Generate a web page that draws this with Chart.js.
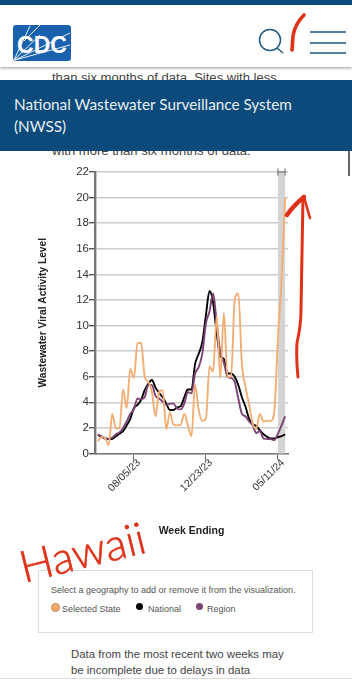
<!DOCTYPE html>
<html>
<head>
<meta charset="utf-8">
<script src="https://cdn.jsdelivr.net/npm/chart.js@4"></script>
<style>
  html, body { margin: 0; padding: 0; width: 352px; height: 680px; overflow: hidden; background: #fff; font-family: "Liberation Sans", sans-serif; }
  .abs { position: absolute; white-space: nowrap; }
  #chartWrap { position: absolute; left: 0; top: 160px; width: 352px; height: 380px; }
  #topBar { left: 0; top: 0; width: 352px; height: 5px; background: #0b4c80; }
  #header { left: 0; top: 5px; width: 352px; height: 62px; background: #fff; box-shadow: 0 1px 3px rgba(0,0,0,.4); z-index: 3; }
  #banner { left: 0; top: 80px; width: 352px; height: 71px; background: #0b4a7a; z-index: 2; color: #e8eef4; font: 15.3px/22px "Lato", sans-serif; }
  #banner div { position: absolute; left: 14px; top: 13px; }
  .pageText { color: #444; font-size: 13.05px; }
  #legendBox { left: 38px; top: 570px; width: 273px; height: 61px; border: 1.5px solid #ddd; z-index: 1; background: #fff; }
  #legendBox .title { position: absolute; left: 12px; top: 13.5px; font-size: 9px; color: #555; }
  .item { position: absolute; top: 33px; font-size: 9px; color: #555; }
  .dot { position: absolute; top: 32px; width: 7px; height: 7px; border-radius: 50%; }
  #hawaii { left: 18px; top: 525px; font: 300 44px "Lato", sans-serif; color: #df3218; transform: rotate(-14deg); z-index: 4; -webkit-text-stroke: .6px #df3218; }
  #ink { position: absolute; left: 0; top: 0; z-index: 4; }
</style>
</head>
<body>
<div class="abs" id="topBar"></div>
<div class="abs" id="header">
  <svg width="352" height="62" style="position:absolute;left:0;top:0">
    <rect x="13" y="20" width="58" height="36" rx="3" fill="#1a62ad"/>
    <g stroke="#fff" stroke-width="0.9" fill="none">
      <path d="M14 55 L30 21"/><path d="M14 55 L40 30"/><path d="M15 55 L70 28"/><path d="M15 55 L70 40"/><path d="M40 20 L24 36"/>
    </g>
    <text x="42" y="48" text-anchor="middle" font-family="Liberation Sans" font-weight="700" font-size="23" fill="#fff">CDC</text>
    <g stroke="#1d5a86" fill="none">
      <circle cx="270" cy="35" r="10.5" stroke-width="1.5"/>
      <path d="M277 43 L283 48" stroke-width="1.5"/>
      <path d="M310 27 H346 M310 38 H346 M310 48 H346" stroke-width="1.5"/>
    </g>
  </svg>
</div>
<div class="abs pageText" style="left:52px;top:70px">than six months of data. Sites with less</div>
<div class="abs" id="banner"><div>National Wastewater Surveillance System<br>(NWSS)</div></div>
<div class="abs pageText" style="left:52px;top:143px">with more than six months of data.</div>
<div class="abs" style="left:348px;top:150px;width:2px;height:26px;background:#666"></div>

<div id="chartWrap"><canvas id="wastewaterChart" width="352" height="380"></canvas></div>

<div class="abs" id="legendBox">
  <div class="title">Select a geography to add or remove it from the visualization.</div>
  <div class="dot" style="left:12px;background:#f2a96b;border:.5px solid #c98b50"></div><div class="item" style="left:23px">Selected State</div>
  <div class="dot" style="left:97px;background:#000"></div><div class="item" style="left:109px">National</div>
  <div class="dot" style="left:157px;background:#7a4374"></div><div class="item" style="left:168px">Region</div>
</div>
<div class="abs pageText" style="left:71px;top:646px;font-size:11.4px;line-height:16px">Data from the most recent two weeks may<br>be incomplete due to delays in data</div>
<div class="abs" style="left:0;top:678px;width:352px;height:1px;background:#ddd"></div>

<div class="abs" id="hawaii">Hawaii</div>
<svg id="ink" width="352" height="680" fill="none" stroke="#df3218" stroke-linecap="round" stroke-linejoin="round">
  <path d="M304 15 Q295 24 293 36 L292 50" stroke-width="3.6"/>
  <path d="M298 377 Q296 358 297 343 Q301 325 301 310 L303 197" stroke-width="3"/>
  <path d="M287 215 Q294 205 304 197" stroke-width="4.5"/>
  <path d="M304 197 L310 218" stroke-width="2.6"/>
</svg>

<script>
const weekEnding = [
  "05/27/23", "06/03/23", "06/10/23", "06/17/23", "06/24/23", "07/01/23", "07/08/23", "07/15/23", "07/22/23",
  "07/29/23", "08/05/23", "08/12/23", "08/19/23", "08/26/23", "09/02/23", "09/09/23", "09/16/23", "09/23/23",
  "09/30/23", "10/07/23", "10/14/23", "10/21/23", "10/28/23", "11/04/23", "11/11/23", "11/18/23", "11/25/23",
  "12/02/23", "12/09/23", "12/16/23", "12/23/23", "12/30/23", "01/06/24", "01/13/24", "01/20/24", "01/27/24",
  "02/03/24", "02/10/24", "02/17/24", "02/24/24", "03/02/24", "03/09/24", "03/16/24", "03/23/24", "03/30/24",
  "04/06/24", "04/13/24", "04/20/24", "04/27/24", "05/04/24", "05/11/24", "05/18/24", "05/25/24",
];
const tickLabels = ["08/05/23", "12/23/23", "05/11/24"];
const incompleteWeeks = ["05/11/24", "05/25/24"];

const selectedState = [
  0.96, 1.3, 1.2, 0.65, 3.1, 1.95, 2.0, 5.0, 3.55, 6.6, 5.9, 8.6, 8.65, 6.0, 5.6, 4.8, 2.9, 4.8, 4.95, 1.9, 3.2,
  2.25, 2.2, 2.25, 3.1, 2.2, 1.35, 5.4, 3.4, 2.55, 2.7, 6.8, 6.4, 10.7, 5.9, 11.0, 6.0, 6.0, 12.0, 12.5, 7.0, 5.2,
  3.8, 2.35, 1.95, 3.1, 2.5, 2.55, 2.55, 3.3, 9.0, 13.5, 20.0,
];
const national = [
  1.48, 1.3, 1.17, 1.12, 1.15, 1.35, 1.55, 1.75, 2.2, 2.7, 3.55, 3.8, 4.2, 4.95, 5.45, 5.75, 5.15, 4.75, 4.4, 3.9,
  3.4, 3.4, 3.6, 3.7, 4.4, 5.0, 5.0, 7.0, 7.8, 8.7, 10.8, 12.7, 11.8, 9.4, 7.6, 7.4, 6.25, 6.25, 6.0, 5.35, 4.4,
  3.65, 2.7, 2.3, 2.15, 1.8, 1.5, 1.3, 1.17, 1.17, 1.28, 1.35, 1.5,
];
const region = [
  1.48, 1.35, 1.2, 1.15, 1.25, 1.5, 1.65, 2.0, 2.5, 3.1, 3.45, 4.3, 4.25, 4.4, 5.35, 5.35, 4.5, 4.3, 4.05, 3.8,
  3.9, 3.9, 3.5, 3.45, 3.9, 4.8, 4.7, 6.25, 6.75, 7.8, 10.15, 11.1, 12.5, 10.2, 7.9, 7.1, 6.0, 5.9, 5.6, 4.3, 3.1,
  2.9, 2.5, 2.2, 1.6, 1.75, 1.17, 1.12, 1.12, 1.05, 1.55, 2.2, 2.9,
];

const toPoints = (values) => values.map((y, i) => ({ x: i, y }));

const lineDataset = (label, values, color) => ({
  label,
  data: toPoints(values),
  borderColor: color,
  borderWidth: 1.9,
  pointRadius: 0,
  cubicInterpolationMode: "monotone",
  clip: false,
});

//Grey band for the incomplete weeks, and the brush handle on top of it
const incompleteBand = {
  id: "incompleteBand",
  beforeDatasetsDraw(chart) {
    const { ctx, chartArea, scales } = chart;
    const left = scales.x.getPixelForValue(weekEnding.indexOf(incompleteWeeks[0]));
    const right = scales.x.getPixelForValue(weekEnding.indexOf(incompleteWeeks[1]));
    ctx.save();
    ctx.fillStyle = "#d4d4d4";
    ctx.fillRect(left, chartArea.top, right - left, chartArea.bottom - chartArea.top);
    ctx.strokeStyle = "#666";
    ctx.lineWidth = 1;
    ctx.beginPath();
    ctx.moveTo(left, chartArea.top - 3.5);
    ctx.lineTo(left, chartArea.top + 3.5);
    ctx.moveTo(right, chartArea.top - 3.5);
    ctx.lineTo(right, chartArea.top + 3.5);
    ctx.moveTo(left, chartArea.top);
    ctx.lineTo(right, chartArea.top);
    ctx.stroke();
    ctx.restore();
  },
};

new Chart(document.getElementById("wastewaterChart"), {
  type: "line",
  data: {
    datasets: [
      lineDataset("Selected State", selectedState, "#f2ae74"),
      lineDataset("Region", region, "#7a4374"),
      lineDataset("National", national, "#000000"),
    ],
  },
  plugins: [incompleteBand],
  options: {
    responsive: false,
    animation: false,
    layout: { padding: { left: 37, top: 12, right: 64, bottom: 0 } },
    plugins: { legend: { display: false }, tooltip: { enabled: false } },
    scales: {
      x: {
        type: "linear",
        min: -0.8,
        max: 52.8,
        afterBuildTicks: (scale) => {
          scale.ticks = tickLabels.map((l) => ({ value: weekEnding.indexOf(l) }));
        },
        afterFit: (scale) => {
          scale.height = 86.5;
        },
        grid: { drawOnChartArea: false, tickLength: 6, tickColor: "#666" },
        border: { color: "#777", width: 1.5 },
        ticks: {
          autoSkip: false,
          minRotation: 45,
          maxRotation: 45,
          padding: -3,
          labelOffset: 5,
          color: "#333",
          font: { family: "Liberation Sans", size: 10.5 },
          callback: (value) => weekEnding[value],
        },
        title: {
          display: true,
          text: "Week Ending",
          color: "#222",
          padding: { top: 0, bottom: 3 },
          font: { family: "Liberation Sans", size: 10.5, weight: "bold" },
        },
      },
      y: {
        min: 0,
        max: 22,
        afterFit: (scale) => {
          scale.width = 58;
        },
        grid: { color: "#cccccc", lineWidth: 1.4, tickColor: "#555", tickLength: 6 },
        border: { color: "#777", width: 2.4 },
        ticks: {
          stepSize: 2,
          padding: 0,
          color: "#333",
          font: { family: "Liberation Sans", size: 11.5 },
        },
        title: {
          display: true,
          text: "Wastewater Viral Activity Level",
          color: "#222",
          padding: 0,
          font: { family: "Liberation Sans", size: 10.2, weight: "bold" },
        },
      },
    },
  },
});
</script>
</body>
</html>
